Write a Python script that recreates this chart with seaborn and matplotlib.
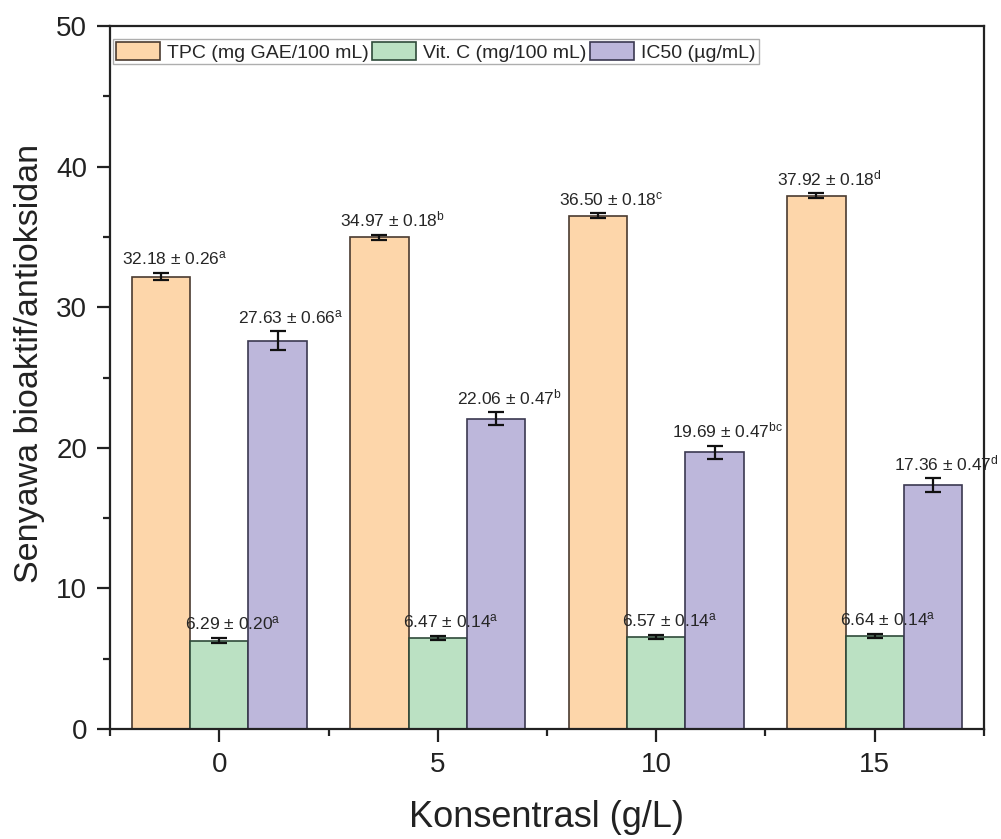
import matplotlib
matplotlib.use("Agg")
import matplotlib.pyplot as plt
from matplotlib.ticker import MultipleLocator, FixedLocator
import numpy as np
import pandas as pd
import seaborn as sns

# Concentration levels (categories on the x axis)
konsentrasi = ["0", "5", "10", "15"]

# Measured parameters
parameter = ["TPC (mg GAE/100 mL)", "Vit. C (mg/100 mL)", "IC50 (µg/mL)"]

# Total phenolic content
tpc = [32.18, 34.97, 36.50, 37.92]
tpc_sd = [0.26, 0.18, 0.18, 0.18]
tpc_huruf = ["a", "b", "c", "d"]

# Vitamin C
vitc = [6.29, 6.47, 6.57, 6.64]
vitc_sd = [0.20, 0.14, 0.14, 0.14]
vitc_huruf = ["a", "a", "a", "a"]

# IC50 antioxidant activity
ic50 = [27.63, 22.06, 19.69, 17.36]
ic50_sd = [0.66, 0.47, 0.47, 0.47]
ic50_huruf = ["a", "b", "bc", "d"]

warna = ["#FDD6AA", "#BBE1C3", "#BDB7DB"]
warna_tepi = ["#4a3b30", "#2f4a3a", "#3b3850"]

nilai = [tpc, vitc, ic50]
sd = [tpc_sd, vitc_sd, ic50_sd]
huruf = [tpc_huruf, vitc_huruf, ic50_huruf]

df = pd.DataFrame({
    "Konsentrasi": konsentrasi * 3,
    "Parameter": [p for p in parameter for _ in konsentrasi],
    "Nilai": tpc + vitc + ic50,
})

sns.set_style("ticks")
plt.rcParams["font.family"] = ["Liberation Sans", "DejaVu Sans"]
plt.rcParams["mathtext.fontset"] = "custom"
plt.rcParams["mathtext.rm"] = "Liberation Sans"
plt.rcParams["mathtext.it"] = "Liberation Sans:italic"

fig = plt.figure(figsize=(10.01, 8.39), dpi=100)
ax = fig.add_axes([0.1099, 0.1311, 0.8731, 0.8379])

sns.barplot(
    data=df, x="Konsentrasi", y="Nilai", hue="Parameter",
    order=konsentrasi, hue_order=parameter, palette=warna, saturation=1,
    width=0.8, gap=0, errorbar=None, linewidth=1.2, ax=ax,
)

bar_groups = list(ax.containers)

teks_warna = "#262626"
for i, cont in enumerate(bar_groups):
    for j, bar in enumerate(cont.patches):
        bar.set_edgecolor(warna_tepi[i])
        xc = bar.get_x() + bar.get_width() / 2
        h = bar.get_height()
        ax.errorbar(xc, h, yerr=sd[i][j], fmt="none", ecolor="#111111",
                    elinewidth=1.6, capsize=6, capthick=1.6, zorder=5)
        lbl = f"{nilai[i][j]:.2f} ± {sd[i][j]:.2f}" + r"$^{\mathrm{" + huruf[i][j] + "}}$"
        ax.annotate(lbl, (xc, h + sd[i][j]), xytext=(9.5, 6),
                    textcoords="offset points", ha="center", va="baseline",
                    fontsize=12.5, color=teks_warna, zorder=6)

ax.set_xlim(-0.5, 3.5)
ax.set_ylim(0, 50)
ax.yaxis.set_major_locator(MultipleLocator(10))
ax.yaxis.set_minor_locator(MultipleLocator(5))
ax.xaxis.set_minor_locator(FixedLocator([-0.5, 0.5, 1.5, 2.5, 3.5]))

for s in ax.spines.values():
    s.set_visible(True)
    s.set_linewidth(1.6)
    s.set_color("#222222")

ax.tick_params(axis="both", which="major", direction="out", length=9.5,
               width=1.6, labelsize=20, colors="#222222", pad=7)
ax.tick_params(axis="both", which="minor", direction="out", length=5,
               width=1.6, colors="#222222")
ax.tick_params(top=False, right=False, which="both")

ax.set_xlabel("Konsentrasl (g/L)", fontsize=26, color="#222222", labelpad=16)
ax.set_ylabel("Senyawa bioaktif/antioksidan", fontsize=24.5, color="#222222")
ax.yaxis.set_label_coords(-0.074, 0.52)

handles = [cont.patches[0] for cont in bar_groups]
if ax.get_legend() is not None:
    ax.get_legend().remove()
leg = ax.legend(
    handles, parameter, ncol=3, loc="upper left",
    bbox_to_anchor=(0.003, 0.982), fontsize=14, frameon=True, fancybox=False,
    handlelength=2.3, handleheight=1.1, handletextpad=0.35,
    columnspacing=0.15, borderpad=0.15, borderaxespad=0,
)
leg.get_frame().set_edgecolor("#9a9a9a")
leg.get_frame().set_linewidth(1.0)

fig.savefig("out.png", dpi=100)
